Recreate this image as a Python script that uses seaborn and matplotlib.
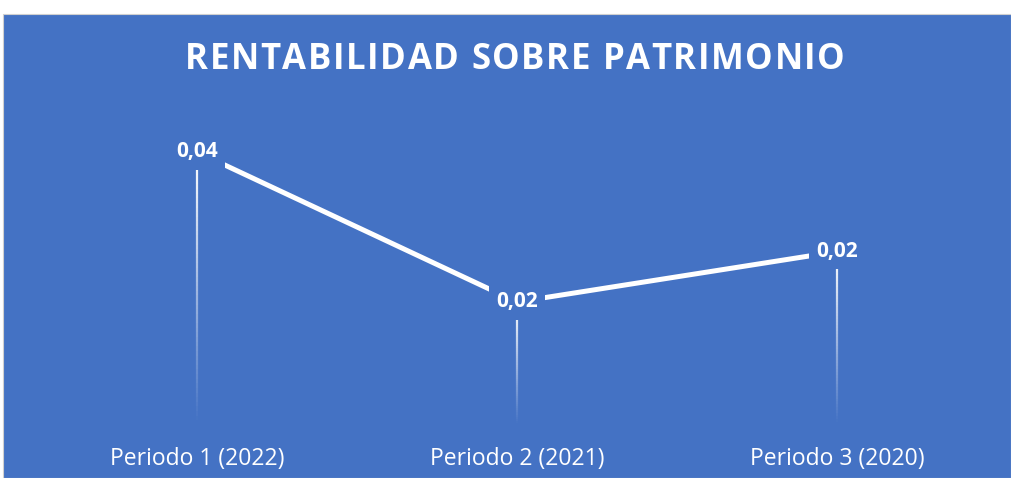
import matplotlib
matplotlib.use("Agg")
import matplotlib.pyplot as plt
from matplotlib.patches import Rectangle
from matplotlib.collections import LineCollection
from matplotlib.font_manager import FontProperties
import numpy as np
import pandas as pd
import seaborn as sns

# data
periodos = ["Periodo 1 (2022)", "Periodo 2 (2021)", "Periodo 3 (2020)"]
rentabilidad = [0.041, 0.016, 0.0244]
titulo = "RENTABILIDAD SOBRE PATRIMONIO"

AZUL = "#4472C4"
W, H = 1011, 478

sns.set_theme(style="white")
plt.rcParams["font.family"] = ["Open Sans", "DejaVu Sans"]

df = pd.DataFrame({"periodo": range(len(periodos)), "valor": rentabilidad})

fig = plt.figure(figsize=(W / 100, H / 100), dpi=100, facecolor="white")
# chart area (blue), leaves a thin white strip at top/left like the screenshot
fig.patches.append(Rectangle((3 / W, 0), 1 - 3 / W, (H - 14) / H, transform=fig.transFigure,
                             facecolor=AZUL, edgecolor="#d0d0d0", lw=0.8, zorder=-10))

ax = fig.add_axes([37 / W, 53 / H, 960 / W, 315 / H])
ax.set_facecolor("none")
for s in ax.spines.values():
    s.set_visible(False)

sns.lineplot(data=df, x="periodo", y="valor", ax=ax, color="white", lw=3.6,
             solid_capstyle="butt", zorder=3)

ax.set_xlim(-0.5, 2.5)
ax.set_ylim(-0.0045, 0.048)

# drop lines fading towards the bottom
for i, v in enumerate(rentabilidad):
    ys = np.linspace(v, ax.get_ylim()[0], 60)
    segs = [[(i, ys[k]), (i, ys[k + 1])] for k in range(len(ys) - 1)]
    alphas = np.linspace(1, 0.0, len(segs))
    cols = [(1, 1, 1, a) for a in alphas]
    ax.add_collection(LineCollection(segs, colors=cols, linewidths=1.6, zorder=2))

# data labels
for i, v in enumerate(rentabilidad):
    ax.text(i, v, f"{v:.2f}".replace(".", ","), ha="center", va="center",
            color="white", fontsize=15, fontweight="bold", zorder=5,
            bbox=dict(boxstyle="square,pad=0.35", fc=AZUL, ec="none"))

ax.set_xticks(range(len(periodos)))
ax.set_xticklabels(periodos, color="white", fontsize=16.5)
ax.set_yticks([])
ax.tick_params(axis="x", length=0, pad=16)
ax.set_xlabel("")
ax.set_ylabel("")

# letter-spaced title
fig.canvas.draw()
rend = fig.canvas.get_renderer()
fp = FontProperties(family="Open Sans", weight="bold", size=25)
anchos = [rend.get_text_width_height_descent(c, fp, ismath=False)[0] for c in titulo]
objetivo = 660
esp = (objetivo - sum(anchos)) / (len(titulo) - 1)
x = 515 - objetivo / 2
for c, w in zip(titulo, anchos):
    fig.text(x / W, 1 - 60 / H, c, fontproperties=fp, color="white", ha="left", va="center")
    x += w + esp

fig.savefig("out.png", dpi=100, facecolor="white")
